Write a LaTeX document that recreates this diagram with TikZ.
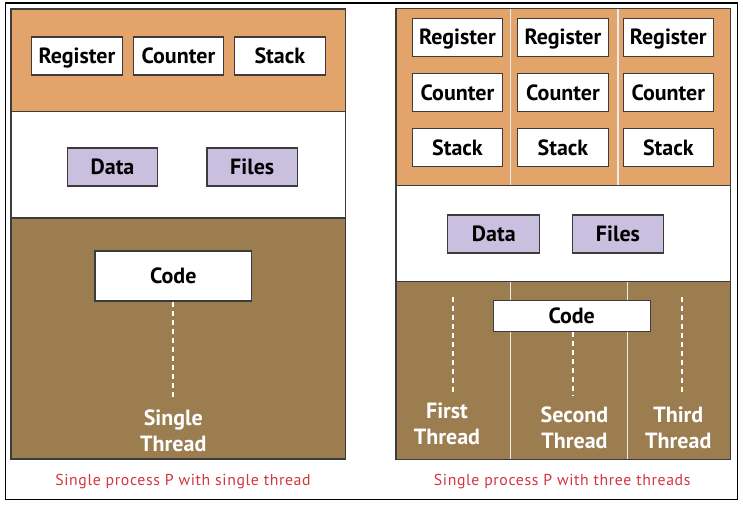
\documentclass[tikz,border=0pt]{standalone}
\usepackage{fontspec}
\setmainfont{PT Sans}
\newfontfamily\capfont[LetterSpace=4]{PT Sans}
\definecolor{stackorange}{RGB}{227,164,107}
\definecolor{codebrown}{RGB}{155,125,80}
\definecolor{datalilac}{RGB}{201,192,224}
\definecolor{edgegray}{RGB}{60,60,60}
\definecolor{capred}{RGB}{214,52,64}
\tikzset{
  cell/.style={draw=edgegray, line width=1.1pt, fill=white, minimum height=38pt,
    minimum width=90.5pt, inner sep=0pt, text height=15.4pt, text depth=0pt,
    font=\bfseries\fontsize{22}{26}\selectfont},
  datacell/.style={cell, fill=datalilac},
  region/.style={draw=edgegray, line width=1.1pt},
  divider/.style={draw=white!85!gray, line width=1.2pt},
  threadline/.style={draw=white, line width=2.2pt, dash pattern=on 5pt off 4pt},
  threadlabel/.style={text=white, align=center, font=\bfseries\fontsize{22}{26}\selectfont, inner sep=0pt},
  caption/.style={text=capred, font=\capfont\fontsize{15.8}{18}\selectfont, inner sep=0pt}
}
\begin{document}
\begin{tikzpicture}[x=1pt, y=-1pt]
\useasboundingbox (0,0) rectangle (743,504);
% outer frame
\draw[black, line width=1.4pt] (5.5,2.8) rectangle (737.5,499.5);

% ---------- single-threaded process ----------
\fill[stackorange] (11,9) rectangle (345.7,111.7);
\fill[white] (11,111.7) rectangle (345.7,218);
\fill[codebrown] (11,218) rectangle (345.7,459);
\draw[region] (11,9) rectangle (345.7,459);
\draw[region] (11,111.7) -- (345.7,111.7);
\draw[region] (11,218) -- (345.7,218);

\node[cell] (regA) at (77,56) {Register};
\node[cell] (cntA) at (178.4,56) {Counter};
\node[cell] (stkA) at (279.8,56) {Stack};
\node[datacell] (dataA) at (112.5,167) {Data};
\node[datacell] (filesA) at (252.2,167) {Files};
\node[cell, minimum width=156.7pt, minimum height=50pt] (codeA) at (173.3,276) {Code};
\coordinate (endA) at (173.3,399);
\draw[threadline] (codeA.south) -- (endA);
\node[threadlabel] (single) at (173.3,430.5) {Single\\Thread};
\node[caption] (capA) at (183,482) {Single process P with single thread};

% ---------- three-threaded process ----------
\fill[stackorange] (396,8.3) rectangle (730.7,185.5);
\fill[white] (396,185.5) rectangle (730.7,281.7);
\fill[codebrown] (396,281.7) rectangle (730.7,459.3);
\draw[divider] (510.5,8.8) -- (510.5,185);
\draw[divider] (618,8.8) -- (618,185);
\draw[divider] (510.3,282.2) -- (510.3,458.8);
\draw[divider] (627.7,282.2) -- (627.7,458.8);
\draw[region] (396,8.3) rectangle (730.7,459.3);
\draw[region] (396,185.5) -- (730.7,185.5);
\draw[region] (396,281.7) -- (730.7,281.7);

\foreach \c/\x in {1/457.5, 2/563, 3/668.3} {
  \node[cell] (reg\c) at (\x,37.2) {Register};
  \node[cell] (cnt\c) at (\x,92.5) {Counter};
  \node[cell] (stk\c) at (\x,147.5) {Stack};
}
\node[datacell, minimum width=92pt] (dataB) at (493.8,234) {Data};
\node[datacell, minimum width=91.4pt] (filesB) at (618,234) {Files};
\node[cell, minimum width=156.7pt, minimum height=31pt] (codeB) at (571.7,316.2) {Code};

\coordinate (topOne) at (453,296.7);
\coordinate (endOne) at (453,395);
\coordinate (endTwo) at (572.7,396);
\coordinate (topThree) at (682.3,296.7);
\coordinate (endThree) at (682.3,395);
\draw[threadline] (topOne) -- (endOne);
\draw[threadline] (codeB.south -| endTwo) -- (endTwo);
\draw[threadline] (topThree) -- (endThree);

\node[threadlabel] (first) at (447,424) {First\\Thread};
\node[threadlabel] (second) at (574.5,428) {Second\\Thread};
\node[threadlabel] (third) at (678.3,428) {Third\\Thread};
\node[caption] (capB) at (562.2,482) {Single process P with three threads};
\end{tikzpicture}
\end{document}
